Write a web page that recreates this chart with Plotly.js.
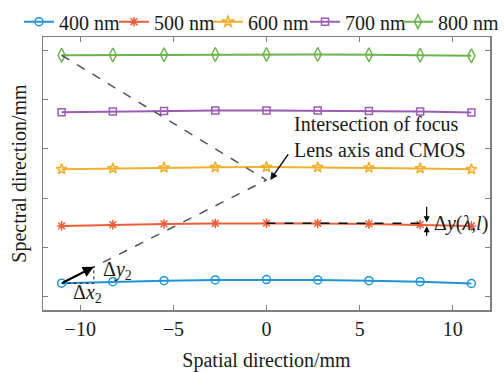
<!DOCTYPE html>
<html>
<head>
<meta charset="utf-8">
<script src="https://cdn.plot.ly/plotly-3.0.1.min.js"></script>
<style>html,body{margin:0;padding:0;background:#fff;}#chart{width:504px;height:372px;}</style>
</head>
<body>
<div id="chart"></div>
<script>
// Spatial positions (mm)
const spatialX = [-11, -8.25, -5.5, -2.75, 0, 2.75, 5.5, 8.25, 11];
// Series names
const seriesNames = ['400 nm', '500 nm', '600 nm', '700 nm', '800 nm'];
// Spectral positions (arbitrary mm offsets)
const y400 = [0.278, 0.310, 0.330, 0.345, 0.352, 0.345, 0.330, 0.310, 0.272];
const y500 = [1.440, 1.465, 1.480, 1.490, 1.495, 1.490, 1.480, 1.465, 1.440];
const y600 = [2.590, 2.605, 2.620, 2.628, 2.632, 2.628, 2.620, 2.605, 2.588];
const y700 = [3.745, 3.760, 3.772, 3.778, 3.780, 3.778, 3.770, 3.760, 3.740];
const y800 = [4.900, 4.905, 4.910, 4.915, 4.915, 4.915, 4.910, 4.900, 4.888];
// Guide (focus lens axis) line
const guideX = [-11, 0, -11];
const guideY = [4.900, 2.37, 0.278];
// Δy(λ,l) reference dashed line
const refX = [0, 8.6];
const refY = [1.495, 1.495];
// Δx2 / Δy2 dotted construction
const dotX = [-11, -9.27, -9.27];
const dotY = [0.278, 0.278, 0.61];
// Axis ticks
const xTicks = [-10, -5, 0, 5, 10];
const xTickText = ['\u221210', '\u22125', '0', '5', '10'];
const yTicks = [0, 1, 2, 3, 4, 5];

const colors = ['#1f95d7', '#e95f3a', '#f0b02e', '#9b5cb4', '#6cb34e'];
const symbols = ['circle-open', 'asterisk-open', 'star-open', 'square-open', 'diamond-tall-open'];
const sizes = [8, 8, 8, 7, 10];
const seriesY = [y400, y500, y600, y700, y800];
const legendIds = ['legend', 'legend2', 'legend3', 'legend4', 'legend5'];
const legendTextX = [59, 154, 248, 345, 438];

const font = '"Liberation Serif", "Times New Roman", serif';
const traces = seriesY.map((ys, i) => ({
  x: spatialX, y: ys, name: seriesNames[i], type: 'scatter', mode: 'lines+markers',
  legend: legendIds[i],
  line: {color: colors[i], width: 2},
  marker: {symbol: symbols[i], size: sizes[i], color: colors[i], line: {color: colors[i], width: 1.5}}
}));
traces.push({x: guideX, y: guideY, mode: 'lines', showlegend: false, hoverinfo: 'skip',
  line: {color: '#555', width: 1.5, dash: 'dash'}});
traces.push({x: refX, y: refY, mode: 'lines', showlegend: false, hoverinfo: 'skip',
  line: {color: '#111', width: 1.5, dash: 'dash'}});
traces.push({x: dotX, y: dotY, mode: 'lines', showlegend: false, hoverinfo: 'skip',
  line: {color: '#111', width: 1, dash: 'dot'}});

const axisCommon = {
  showgrid: false, zeroline: false, showline: true, linecolor: '#808080', linewidth: 1.5,
  mirror: 'ticks', ticks: 'inside', ticklen: 5, tickcolor: '#808080', tickwidth: 1
};

const annFont = {family: font, size: 20, color: '#1a1a1a'};
const layout = {
  width: 504, height: 372,
  margin: {l: 43, r: 14, t: 37, b: 62, autoexpand: false},
  paper_bgcolor: '#fff', plot_bgcolor: '#fff',
  font: {family: font, size: 20, color: '#1a1a1a'},
  showlegend: true,
  xaxis: Object.assign({}, axisCommon, {range: [-12, 12], tickvals: xTicks, ticktext: xTickText,
    title: {text: 'Spatial direction/mm', font: {family: font, size: 20, color: '#1a1a1a'}, standoff: 14}}),
  yaxis: Object.assign({}, axisCommon, {range: [-0.265, 5.27], tickvals: yTicks, showticklabels: false,
    title: {text: 'Spectral direction/mm', font: {family: font, size: 20, color: '#1a1a1a'}, standoff: 9}}),
  annotations: [
    {x: 1.38, y: 3.24, xref: 'x', yref: 'y', text: 'Intersection of focus<br>Lens axis and CMOS',
      showarrow: false, xanchor: 'left', yanchor: 'middle', align: 'left', font: annFont},
    {x: 0.2, y: 2.37, ax: 1.22, ay: 2.92, xref: 'x', yref: 'y', axref: 'x', ayref: 'y', text: '',
      showarrow: true, arrowhead: 2, arrowsize: 1, arrowwidth: 1.5, arrowcolor: '#111'},
    {x: -9.27, y: 0.61, ax: -11, ay: 0.278, xref: 'x', yref: 'y', axref: 'x', ayref: 'y', text: '',
      showarrow: true, arrowhead: 2, arrowsize: 1, arrowwidth: 2.2, arrowcolor: '#000'},
    {x: 8.6, y: 1.515, ax: 8.6, ay: 1.86, xref: 'x', yref: 'y', axref: 'x', ayref: 'y', text: '',
      showarrow: true, arrowhead: 2, arrowsize: 1, arrowwidth: 1.2, arrowcolor: '#000'},
    {x: 8.6, y: 1.434, ax: 8.6, ay: 1.21, xref: 'x', yref: 'y', axref: 'x', ayref: 'y', text: '',
      showarrow: true, arrowhead: 2, arrowsize: 1, arrowwidth: 1.2, arrowcolor: '#000'},
    {x: 8.86, y: 1.495, xref: 'x', yref: 'y', text: '\u0394<i>y</i>(<i>\u03bb</i>,<i>l</i>)',
      showarrow: false, xanchor: 'left', yanchor: 'middle', font: annFont},
    {x: -8.02, y: 0.54, xref: 'x', yref: 'y', text: '\u0394<i>y</i><sub>2</sub>',
      showarrow: false, xanchor: 'center', yanchor: 'middle', font: annFont},
    {x: -9.63, y: 0.065, xref: 'x', yref: 'y', text: '\u0394<i>x</i><sub>2</sub>',
      showarrow: false, xanchor: 'center', yanchor: 'middle', font: annFont}
  ]
};
legendIds.forEach((id, i) => {
  layout[id] = {orientation: 'h', xref: 'container', yref: 'container',
    x: (legendTextX[i] - 40) / 504, y: 1 - 21.7 / 372, xanchor: 'left', yanchor: 'middle',
    font: {family: font, size: 20, color: '#1a1a1a'}, bgcolor: 'rgba(0,0,0,0)', borderwidth: 0};
});
Plotly.newPlot('chart', traces, layout, {staticPlot: true, displayModeBar: false});
</script>
</body>
</html>
